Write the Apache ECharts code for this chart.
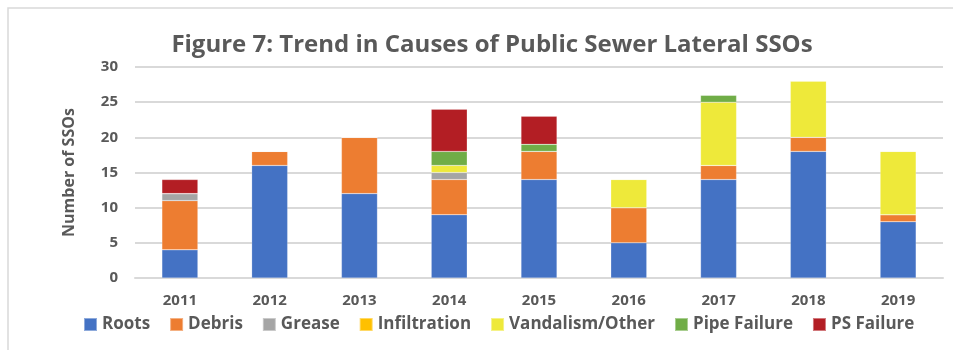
<!DOCTYPE html>
<html>
<head>
<meta charset="utf-8">
<script src="https://cdn.jsdelivr.net/npm/echarts@6/dist/echarts.min.js"></script>
<style>
  html, body { margin: 0; padding: 0; background: #fff; }
  #chart { width: 953px; height: 350px; }
</style>
</head>
<body>
<div id="chart"></div>
<script>
const years = ['2011', '2012', '2013', '2014', '2015', '2016', '2017', '2018', '2019'];
const roots = [4, 16, 12, 9, 14, 5, 14, 18, 8];
const debris = [7, 2, 8, 5, 4, 5, 2, 2, 1];
const grease = [1, 0, 0, 1, 0, 0, 0, 0, 0];
const infiltration = [0, 0, 0, 0, 0, 0, 0, 0, 0];
const vandalism = [0, 0, 0, 1, 0, 4, 9, 8, 9];
const pipeFailure = [0, 0, 0, 2, 1, 0, 1, 0, 0];
const psFailure = [2, 0, 0, 6, 4, 0, 0, 0, 0];

const seriesDefs = [
    ['Roots', roots, '#4472C4'],
    ['Debris', debris, '#ED7D31'],
    ['Grease', grease, '#A5A5A5'],
    ['Infiltration', infiltration, '#FFC000'],
    ['Vandalism/Other', vandalism, '#EEE93A'],
    ['Pipe Failure', pipeFailure, '#70AD47'],
    ['PS Failure', psFailure, '#B31E24']
];

const textColor = '#595959';
const font = '"Open Sans", "Noto Sans", sans-serif';

const chart = echarts.init(document.getElementById('chart'));

const option = {
    animation: false,
    textStyle: { fontFamily: font },
    title: {
        text: 'Figure 7: Trend in Causes of Public Sewer Lateral SSOs',
        left: 487,
        textAlign: 'center',
        top: 28,
        textStyle: { fontSize: 24, fontWeight: 'bold', color: textColor, fontFamily: font }
    },
    graphic: [{
        type: 'polyline',
        shape: { points: [[8, 350], [8, 8], [953, 8]] },
        style: { stroke: '#d9d9d9', lineWidth: 1.5, fill: null }
    }],
    grid: { left: 135, right: 10, top: 67, bottom: 72 },
    legend: {
        bottom: 12,
        left: 78,
        itemWidth: 13,
        itemHeight: 13,
        itemGap: 19,
        icon: 'rect',
        textStyle: { fontSize: 17, fontWeight: 'bold', color: textColor, fontFamily: font }
    },
    xAxis: {
        type: 'category',
        data: years,
        axisLine: { show: true, lineStyle: { color: '#d9d9d9', width: 2 } },
        axisTick: { show: false },
        axisLabel: { fontSize: 15, fontWeight: 'bold', color: textColor, margin: 15 }
    },
    yAxis: {
        type: 'value',
        min: 0,
        max: 30,
        interval: 5,
        name: 'Number of SSOs',
        nameLocation: 'middle',
        nameGap: 58,
        nameTextStyle: { fontSize: 16, fontWeight: 'bold', color: textColor },
        axisLine: { show: false },
        axisTick: { show: false },
        axisLabel: { fontSize: 15, fontWeight: 'bold', color: textColor, margin: 17 },
        splitLine: { lineStyle: { color: '#d9d9d9', width: 2 } }
    },
    series: seriesDefs.map(([name, data, color]) => ({
        name: name,
        type: 'bar',
        stack: 'total',
        barWidth: 36,
        data: data,
        itemStyle: { color: color, borderColor: 'rgba(255,255,255,0.4)', borderWidth: 0.5 }
    }))
};

chart.setOption(option);
window.addEventListener('resize', () => chart.resize());
</script>
</body>
</html>
